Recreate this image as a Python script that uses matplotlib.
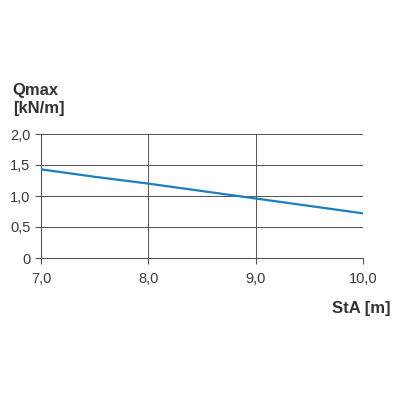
import matplotlib
matplotlib.use('Agg')
import matplotlib.pyplot as plt

plt.rcParams['font.family'] = ['Liberation Sans', 'DejaVu Sans']

# data
sta = [7.0, 7.5, 8.0, 8.5, 9.0, 9.5, 10.0]
qmax = [1.43, 1.31, 1.20, 1.08, 0.96, 0.84, 0.72]

x_ticks = [7.0, 8.0, 9.0, 10.0]
x_labels = ['7,0', '8,0', '9,0', '10,0']
y_ticks = [0, 0.5, 1.0, 1.5, 2.0]
y_labels = ['0', '0,5', '1,0', '1,5', '2,0']

fig = plt.figure(figsize=(4, 4), dpi=100)
ax = fig.add_axes([0.1025, 0.355, 0.805, 0.31])

ax.plot(sta, qmax, color='#1b7dc3', linewidth=1.6, zorder=3)

ax.set_xlim(7.0, 10.0)
ax.set_ylim(0, 2.0)
ax.set_xticks(x_ticks)
ax.set_xticklabels(x_labels)
ax.set_yticks(y_ticks)
ax.set_yticklabels(y_labels)
ax.grid(True, color='#555555', linewidth=0.7)
for s in ['top', 'right']:
    ax.spines[s].set_visible(False)
for s in ['left', 'bottom']:
    ax.spines[s].set_color('#555555')
    ax.spines[s].set_linewidth(0.8)
ax.tick_params(axis='both', colors='#555555', labelcolor='#3a3a3a',
               labelsize=10.5, length=4, width=0.8)
ax.tick_params(axis='x', pad=6)

fig.text(0.032, 0.775, 'Qmax', fontsize=12, fontweight='bold', color='#333333', va='center')
fig.text(0.032, 0.728, '[kN/m]', fontsize=12, fontweight='bold', color='#333333', va='center')
fig.text(0.975, 0.23, 'StA [m]', fontsize=12, fontweight='bold', color='#333333',
         ha='right', va='center')

fig.savefig('out.png', dpi=100)
